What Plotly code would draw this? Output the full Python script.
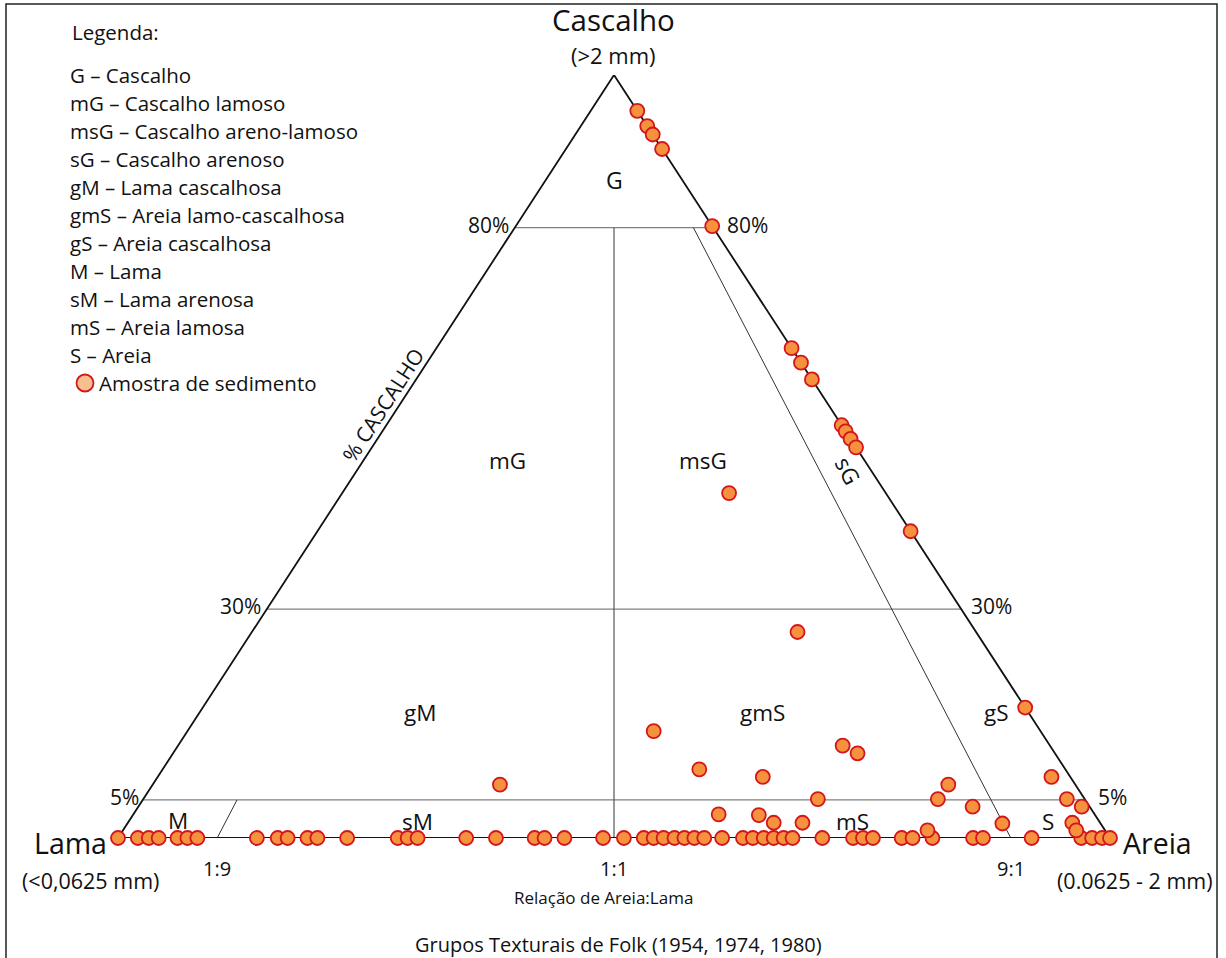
import plotly.graph_objects as go

# ---------------- data (ternary percentages: Cascalho, Areia, Lama) ----------------
# samples on the Areia-Lama base (0 % cascalho): % areia
base_areia = [0.0, 2.0, 3.1, 4.1, 6.0, 7.0, 8.0, 14.0, 16.1, 17.1, 19.1, 20.1, 23.1,
              28.2, 29.2, 30.2, 35.1, 38.1, 42.0, 43.0, 45.0, 48.9, 51.0, 53.0, 54.0,
              55.0, 56.1, 57.1, 58.1, 59.1, 60.9, 63.0, 64.0, 65.1, 66.1, 67.1, 68.0,
              71.0, 74.1, 75.1, 76.1, 79.0, 80.1, 82.1, 86.2, 87.2, 92.1, 97.1, 98.2,
              99.2, 100.0]
# interior samples
int_cascalho = [7.0, 14.0, 9.0, 8.0, 12.1, 11.1, 5.1, 3.1, 3.0, 2.0, 2.0, 27.0, 45.2,
                1.0, 5.1, 7.0, 4.1, 1.9, 8.0, 5.1, 4.1, 2.0, 1.0]
int_areia = [35.0, 47.0, 54.1, 61.0, 67.0, 69.0, 68.0, 59.0, 63.1, 65.1, 68.0, 55.0, 39.0,
             81.1, 80.1, 80.2, 84.1, 88.2, 90.1, 93.1, 95.1, 95.2, 96.1]
# samples on the Cascalho-Areia edge (0 % lama): % cascalho
edge_cascalho = [95.3, 93.3, 92.2, 90.3, 80.2, 64.2, 62.3, 60.1, 54.1, 53.3, 52.3, 51.2,
                 40.2, 17.1]

cascalho = [0.0] * len(base_areia) + int_cascalho + edge_cascalho
areia = base_areia + int_areia + [100.0 - g for g in edge_cascalho]
lama = [100.0 - c - a for c, a in zip(cascalho, areia)]

gravel_levels = [80, 30, 5]                  # % cascalho class limits
gravel_labels = ["80%", "30%", "5%"]
ratio_values = [0.1, 0.5, 0.9]               # areia/(areia+lama)
ratio_labels = ["1:9", "1:1", "9:1"]

legend_lines = ["G – Cascalho", "mG – Cascalho lamoso", "msG – Cascalho areno-lamoso",
                "sG – Cascalho arenoso", "gM – Lama cascalhosa",
                "gmS – Areia lamo-cascalhosa", "gS – Areia cascalhosa", "M – Lama",
                "sM – Lama arenosa", "mS – Areia lamosa", "S – Areia"]

# ---------------- geometry helpers ----------------
W_PX, H_PX = 1226, 958
L_M, R_M, T_M, B_M = 118, 116, 75, 120
PW, PH = W_PX - L_M - R_M, H_PX - T_M - B_M


def tern(c, a, m):
    g = c / 100.0
    r = a / (a + m) if (a + m) > 0 else 0.5
    return (r - 0.5) * (1 - g), g


def px2paper(px, py):
    return (px - L_M) / PW, (H_PX - B_M - py) / PH


FONT = "Open Sans"
BLACK = "#111111"

xs, ys = zip(*[tern(c, a, m) for c, a, m in zip(cascalho, areia, lama)])

fig = go.Figure()
fig.add_trace(go.Scatter(
    x=list(xs), y=list(ys), mode="markers", cliponaxis=False,
    name="Amostra de sedimento", showlegend=False,
    marker=dict(size=14, color="#f6913e", line=dict(color="#d2161c", width=1.8)),
    hoverinfo="skip"))

shapes = []
# class boundary lines
for lv in gravel_levels:
    g = lv / 100
    shapes.append(dict(type="line", xref="x", yref="y", x0=-0.5 * (1 - g), x1=0.5 * (1 - g),
                       y0=g, y1=g, line=dict(color="#808080", width=1.2), layer="below"))
# 1:1 vertical up to 80 %
shapes.append(dict(type="line", xref="x", yref="y", x0=0, x1=0, y0=0, y1=gravel_levels[0] / 100,
                   line=dict(color="#555555", width=1.2), layer="below"))
# 1:9 line up to 5 %
g5 = gravel_levels[2] / 100
shapes.append(dict(type="line", xref="x", yref="y", x0=(ratio_values[0] - 0.5), y0=0,
                   x1=(ratio_values[0] - 0.5) * (1 - g5), y1=g5,
                   line=dict(color="#333333", width=1), layer="below"))
# 9:1 line up to 80 %
g80 = gravel_levels[0] / 100
shapes.append(dict(type="line", xref="x", yref="y", x0=(ratio_values[2] - 0.5), y0=0,
                   x1=(ratio_values[2] - 0.5) * (1 - g80), y1=g80,
                   line=dict(color="#333333", width=1), layer="below"))
# triangle outline
shapes.append(dict(type="path", xref="x", yref="y", path="M -0.5 0 L 0 1 L 0.5 0 Z",
                   line=dict(color="#111111", width=1.8), layer="below"))
# frame
fx0, fy1 = px2paper(6, 4)
fx1, fy0 = px2paper(1217, 990)
shapes.append(dict(type="rect", xref="paper", yref="paper", x0=fx0, x1=fx1, y0=fy0, y1=fy1,
                   line=dict(color="#222222", width=1.5), layer="below"))
# legend marker
cx, cy = px2paper(85, 383)
rx, ry = 8.5 / PW, 8.5 / PH
shapes.append(dict(type="circle", xref="paper", yref="paper", x0=cx - rx, x1=cx + rx,
                   y0=cy - ry, y1=cy + ry, fillcolor="#f9bf90",
                   line=dict(color="#d2161c", width=1.8)))

ann = []


def add_px(text, px, py, size, xanchor="center", angle=0, color=BLACK):
    x, y = px2paper(px, py)
    ann.append(dict(text=text, x=x, y=y, xref="paper", yref="paper", showarrow=False,
                    xanchor=xanchor, yanchor="middle", textangle=angle, borderpad=0,
                    font=dict(family=FONT, size=size, color=color)))


# legend
add_px("Legenda:", 71, 32, 20.5, "left")
for i, t in enumerate(legend_lines):
    add_px(t, 69, 75 + 28 * i, 20.5, "left")
add_px("Amostra de sedimento", 98, 383, 20.5, "left")

# vertex labels
add_px("Cascalho", 613, 19, 29.5)
add_px("(>2 mm)", 613, 55, 22)
add_px("Lama", 70, 843, 28.5)
add_px("(<0,0625 mm)", 90, 880, 21.5)
add_px("Areia", 1157, 843, 28.5)
add_px("(0.0625 - 2 mm)", 1135, 880, 21.5)

# gravel level labels (data coordinates)
left_shift = [-4, -4, -2]
right_shift = [12, 8, 11]
for lv, lab, ls, rs in zip(gravel_levels, gravel_labels, left_shift, right_shift):
    g = lv / 100
    ann.append(dict(text=lab, x=-0.5 * (1 - g), y=g, xref="x", yref="y", showarrow=False,
                    xanchor="right", yanchor="middle", xshift=ls, yshift=3,
                    font=dict(family=FONT, size=21, color=BLACK)))
    ann.append(dict(text=lab, x=0.5 * (1 - g), y=g, xref="x", yref="y", showarrow=False,
                    xanchor="left", yanchor="middle", xshift=rs, yshift=3,
                    font=dict(family=FONT, size=21, color=BLACK)))
# ratio labels
for rv, lab in zip(ratio_values, ratio_labels):
    ann.append(dict(text=lab, x=rv - 0.5, y=0, xref="x", yref="y", showarrow=False,
                    xanchor="center", yanchor="middle", yshift=-30,
                    font=dict(family=FONT, size=20, color=BLACK)))

# class labels
add_px("G", 614, 180, 23)
add_px("mG", 507, 460, 22.5)
add_px("msG", 703, 460, 22.5)
add_px("sG", 848, 470, 22.5, angle=62.5)
add_px("gM", 420, 712, 22.5)
add_px("gmS", 762, 712, 22.5)
add_px("gS", 996, 712, 22.5)
add_px("M", 178, 820, 22.5)
add_px("sM", 417, 821, 22.5)
add_px("mS", 852, 821, 22.5)
add_px("S", 1048, 821, 22.5)
add_px("% CASCALHO", 383, 405, 21, angle=-57)

# axis captions
add_px("Relação de Areia:Lama", 603, 897, 17)
add_px("Grupos Texturais de Folk (1954, 1974, 1980)", 618, 945, 20)

fig.update_layout(
    width=W_PX, height=H_PX,
    margin=dict(l=L_M, r=R_M, t=T_M, b=B_M, pad=0),
    paper_bgcolor="white", plot_bgcolor="white",
    xaxis=dict(range=[-0.5, 0.5], visible=False, fixedrange=True),
    yaxis=dict(range=[0, 1], visible=False, fixedrange=True),
    shapes=shapes, annotations=ann, showlegend=False,
    font=dict(family=FONT, color=BLACK),
)

fig.write_html("out.html", config={"displayModeBar": False},
               post_script="document.body.style.margin='0';")
